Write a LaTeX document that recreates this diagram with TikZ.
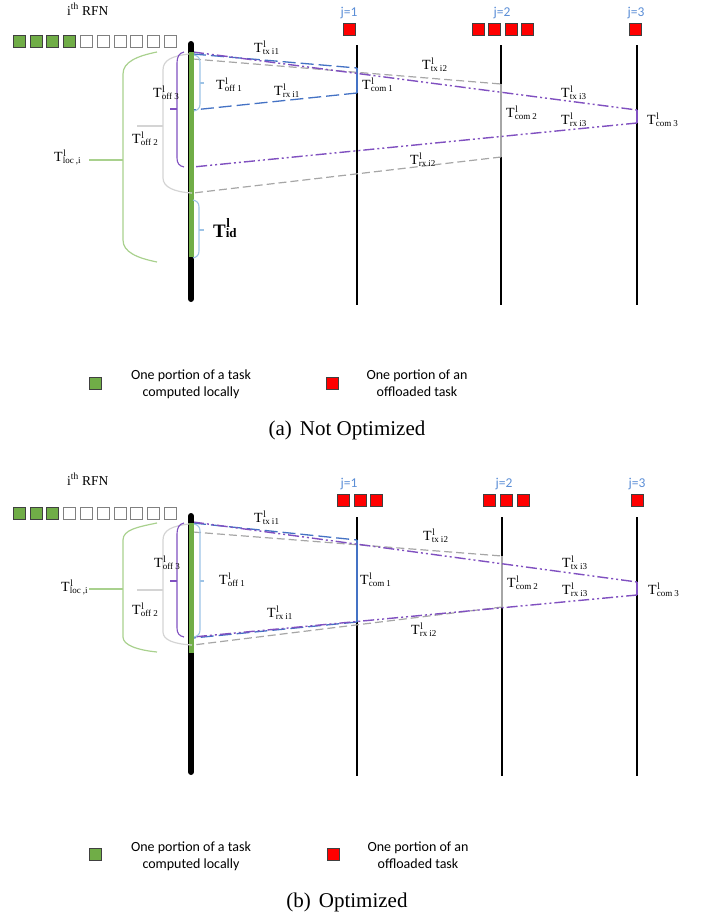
\documentclass[tikz,border=0pt]{standalone}
\usepackage{fontspec}
\setmainfont{Liberation Serif}
\newfontfamily\calfont{Carlito}
\definecolor{tgreen}{RGB}{112,173,71}
\definecolor{lgreen}{RGB}{169,209,142}
\definecolor{tblue}{RGB}{68,114,196}
\definecolor{lblue}{RGB}{157,195,230}
\definecolor{jblue}{RGB}{91,142,214}
\definecolor{tgray}{RGB}{166,166,166}
\definecolor{lgray}{RGB}{212,212,212}
\definecolor{tpurple}{RGB}{128,80,192}
\definecolor{sqedge}{RGB}{64,64,64}
\newcommand\Tl[1]{T\makebox[0pt][l]{\hspace{0.6pt}\raisebox{5pt}{\fontsize{9.5}{10}\selectfont l}}{\fontsize{9}{10}\selectfont\raisebox{-2pt}{#1}}}
\newcommand\Tid{T\makebox[0pt][l]{\hspace{0.6pt}\raisebox{10pt}{\fontsize{13}{14}\selectfont l}}{\fontsize{13}{14}\selectfont id}}
\begin{document}
\begin{tikzpicture}[x=1pt,y=-1pt,
  lab/.style={inner sep=0pt, anchor=base west, font=\fontsize{14}{16}\selectfont},
  idlab/.style={inner sep=0pt, anchor=base west, font=\bfseries\fontsize{19}{21}\selectfont},
  rfnlab/.style={inner sep=0pt, anchor=base west, font=\fontsize{13.5}{15}\selectfont},
  leg/.style={inner sep=0pt, anchor=base, font=\calfont\fontsize{14}{17}\selectfont},
  jlab/.style={inner sep=0pt, anchor=base, font=\calfont\fontsize{13.5}{15}\selectfont, text=jblue},
  captext/.style={inner sep=0pt, anchor=base, font=\fontsize{21}{24}\selectfont},
  sqg/.style={draw=sqedge, fill=tgreen, line width=1pt, minimum size=12pt, inner sep=0pt},
  sqw/.style={draw=gray, fill=white, line width=1pt, minimum size=12pt, inner sep=0pt},
  sqr/.style={draw=sqedge, fill=red, line width=1pt, minimum size=12pt, inner sep=0pt},
  jline/.style={draw=black, line width=1.8pt},
  rfnline/.style={draw=black, line width=6pt, line cap=round},
  greenline/.style={draw=tgreen, line width=5pt},
  bdash/.style={draw=tblue, line width=1.3pt, dash pattern=on 13pt off 5pt},
  ydash/.style={draw=tgray, line width=1.2pt, dash pattern=on 8pt off 4pt},
  pdash/.style={draw=tpurple, line width=1.4pt, dash pattern=on 11pt off 3pt on 2pt off 3pt on 2pt off 3pt},
  bcom/.style={draw=tblue, line width=2.5pt},
  ycom/.style={draw=tgray, line width=2.5pt},
  pcom/.style={draw=tpurple, line width=2.5pt},
  gbrace/.style={draw=lgreen, line width=1.2pt},
  ybrace/.style={draw=lgray, line width=1.2pt},
  pbrace/.style={draw=tpurple, line width=1.1pt},
  bbrace/.style={draw=lblue, line width=1.1pt}
]
\useasboundingbox (0,0) rectangle (702,916);

%% ================= Panel (a) =================
\node[rfnlab] (a-rfn) at (67,15) {i\textsuperscript{th} RFN};
\foreach \k/\s in {0/sqg,1/sqg,2/sqg,3/sqg,4/sqw,5/sqw,6/sqw,7/sqw,8/sqw,9/sqw}
  \node[\s] (a-sq\k) at ({19.3+16.8*\k},41) {};
\node[jlab] (a-jl1) at (349,16) {j=1};
\node[jlab] (a-jl2) at (502,16) {j=2};
\node[jlab] (a-jl3) at (636,16) {j=3};
\node[sqr] (a-r1) at (349,29) {};
\foreach \k in {0,1,2,3} \node[sqr] (a-r2\k) at ({478.3+16.5*\k},29) {};
\node[sqr] (a-r3) at (635.5,29) {};

\coordinate (a-j1t) at (357,45); \coordinate (a-j1b) at (357,305);
\coordinate (a-j2t) at (501,45); \coordinate (a-j2b) at (501,305);
\coordinate (a-j3t) at (637,45); \coordinate (a-j3b) at (637,305);
\draw[jline] (a-j1t) -- (a-j1b);
\draw[jline] (a-j2t) -- (a-j2b);
\draw[jline] (a-j3t) -- (a-j3b);

\coordinate (a-bs) at (193,54);  \coordinate (a-be) at (357,68);
\coordinate (a-bc) at (357,93);  \coordinate (a-br) at (193,110);
\coordinate (a-ys) at (193,59);  \coordinate (a-ye) at (501,84);
\coordinate (a-yc) at (501,157); \coordinate (a-yr) at (193,193);
\coordinate (a-ps) at (193,52);  \coordinate (a-pe) at (637,110);
\coordinate (a-pc) at (637,123); \coordinate (a-pr) at (193,167);
\draw[ydash] (a-ys) -- (a-ye);
\draw[ycom] (a-ye) -- (a-yc);
\draw[ydash] (a-yc) -- (a-yr);
\draw[bdash] (a-bs) -- (a-be);
\draw[bcom] (a-be) -- (a-bc);
\draw[bdash] (a-bc) -- (a-br);
\draw[pdash] (a-ps) -- (a-pe);
\draw[pcom] (a-pe) -- (a-pc);
\draw[pdash] (a-pc) -- (a-pr);

\coordinate (a-rt) at (191,44); \coordinate (a-rb) at (191,299);
\coordinate (a-gt) at (191,52); \coordinate (a-gb) at (191,257);
\draw[rfnline] (a-rt) -- (a-rb);
\draw[greenline] (a-gt) -- (a-gb);

% braces
\draw[gbrace] (157,52) .. controls (137,56) and (123,62) .. (123,74) -- (123,240) .. controls (123,252) and (137,258) .. (157,262);
\draw[ybrace] (189,54) .. controls (172,56) and (163,60) .. (163,70) -- (163,178) .. controls (163,187) and (174,192) .. (192,193);
\draw[pbrace] (184,52) .. controls (179,53) and (177,57) .. (177,63) -- (177,158) .. controls (177,163) and (179,166) .. (184,167);
\draw[bbrace] (194,55) .. controls (198,56) and (200,58) .. (200,62) -- (200,104) .. controls (200,108) and (198,110) .. (194,111);
\draw[bbrace] (193,200) .. controls (197,201) and (199,203) .. (199,207) -- (199,251) .. controls (199,255) and (197,257) .. (193,258);
\coordinate (a-gm) at (123,160); \coordinate (a-gk) at (89,160);
\coordinate (a-ym) at (163,126); \coordinate (a-yk) at (137,126);
\coordinate (a-pm) at (177,109); \coordinate (a-pk) at (170,109);
\coordinate (a-om) at (200,83);  \coordinate (a-ok) at (204,83);
\coordinate (a-im) at (199,230); \coordinate (a-ik) at (204,230);
\draw[gbrace] (a-gm) -- (a-gk);
\draw[ybrace] (a-ym) -- (a-yk);
\draw[pbrace] (a-pm) -- (a-pk);
\draw[bbrace] (a-om) -- (a-ok);
\draw[bbrace] (a-im) -- (a-ik);

% labels
\node[lab] (a-ltx1) at (254,52) {\Tl{tx i1}};
\node[lab] (a-lrx1) at (274,95) {\Tl{rx i1}};
\node[lab] (a-loff1) at (216,89) {\Tl{off 1}};
\node[lab] (a-lcom1) at (362,89) {\Tl{com 1}};
\node[lab] (a-ltx2) at (422,69) {\Tl{tx i2}};
\node[lab] (a-lcom2) at (506,117) {\Tl{com 2}};
\node[lab] (a-ltx3) at (561,97) {\Tl{tx i3}};
\node[lab] (a-lrx3) at (561,124) {\Tl{rx i3}};
\node[lab] (a-lcom3) at (647,124) {\Tl{com 3}};
\node[lab] (a-lrx2) at (410,164) {\Tl{rx i2}};
\node[lab] (a-loff3) at (153,97) {\Tl{off 3}};
\node[lab] (a-loff2) at (132,143) {\Tl{off 2}};
\node[lab] (a-lloc) at (54,161) {\Tl{loc ,i}};
\node[idlab] (a-lid) at (213,237) {\Tid};

% legend
\node[sqg] (a-lg) at (95.5,383) {};
\node[leg] (a-lgt1) at (191,379) {One portion of a task};
\node[leg] (a-lgt2) at (191,396) {computed locally};
\node[sqr] (a-lr) at (332,383) {};
\node[leg] (a-lrt1) at (417,379) {One portion of an};
\node[leg] (a-lrt2) at (417,396) {offloaded task};
\node[captext] (a-cap) at (347,435) {(a)\hspace{8pt}Not Optimized};

%% ================= Panel (b) =================
\node[rfnlab] (b-rfn) at (67,485) {i\textsuperscript{th} RFN};
\foreach \k/\s in {0/sqg,1/sqg,2/sqg,3/sqw,4/sqw,5/sqw,6/sqw,7/sqw,8/sqw,9/sqw}
  \node[\s] (b-sq\k) at ({19.3+16.8*\k},513) {};
\node[jlab] (b-jl1) at (349,487) {j=1};
\node[jlab] (b-jl2) at (504,487) {j=2};
\node[jlab] (b-jl3) at (637,487) {j=3};
\foreach \k in {0,1,2} \node[sqr] (b-r1\k) at ({343.3+16.75*\k},500) {};
\foreach \k in {0,1,2} \node[sqr] (b-r2\k) at ({489.5+17*\k},500) {};
\node[sqr] (b-r3) at (637,500) {};

\coordinate (b-j1t) at (357,517); \coordinate (b-j1b) at (357,776);
\coordinate (b-j2t) at (502,517); \coordinate (b-j2b) at (502,776);
\coordinate (b-j3t) at (637,517); \coordinate (b-j3b) at (637,776);
\draw[jline] (b-j1t) -- (b-j1b);
\draw[jline] (b-j2t) -- (b-j2b);
\draw[jline] (b-j3t) -- (b-j3b);

\coordinate (b-bs) at (193,523);  \coordinate (b-be) at (357,540);
\coordinate (b-bc) at (357,622);  \coordinate (b-br) at (193,638);
\coordinate (b-ys) at (193,532);  \coordinate (b-ye) at (502,556);
\coordinate (b-yc) at (502,607);  \coordinate (b-yr) at (193,645);
\coordinate (b-ps) at (193,522);  \coordinate (b-pe) at (637,582);
\coordinate (b-pc) at (637,595);  \coordinate (b-pr) at (193,637);
\draw[ydash] (b-ys) -- (b-ye);
\draw[ycom] (b-ye) -- (b-yc);
\draw[ydash] (b-yc) -- (b-yr);
\draw[bdash] (b-bs) -- (b-be);
\draw[bcom] (b-be) -- (b-bc);
\draw[bdash] (b-bc) -- (b-br);
\draw[pdash] (b-ps) -- (b-pe);
\draw[pcom] (b-pe) -- (b-pc);
\draw[pdash] (b-pc) -- (b-pr);

\coordinate (b-rt) at (191,516); \coordinate (b-rb) at (191,772);
\coordinate (b-gt) at (191,523); \coordinate (b-gb) at (191,653);
\draw[rfnline] (b-rt) -- (b-rb);
\draw[greenline] (b-gt) -- (b-gb);

% braces
\draw[gbrace] (157,523) .. controls (137,527) and (123,530) .. (123,540) -- (123,637) .. controls (123,645) and (137,650) .. (157,652);
\draw[ybrace] (189,524) .. controls (172,526) and (163,530) .. (163,540) -- (163,632) .. controls (163,640) and (174,644) .. (192,645);
\draw[pbrace] (184,523) .. controls (179,524) and (177,528) .. (177,534) -- (177,628) .. controls (177,633) and (179,636) .. (184,637);
\draw[bbrace] (194,524) .. controls (198,525) and (200,527) .. (200,531) -- (200,630) .. controls (200,634) and (198,636) .. (194,637);
\coordinate (b-gm) at (123,589); \coordinate (b-gk) at (89,589);
\coordinate (b-ym) at (163,590); \coordinate (b-yk) at (137,590);
\coordinate (b-pm) at (177,581); \coordinate (b-pk) at (170,581);
\coordinate (b-om) at (200,581); \coordinate (b-ok) at (204,581);
\draw[gbrace] (b-gm) -- (b-gk);
\draw[ybrace] (b-ym) -- (b-yk);
\draw[pbrace] (b-pm) -- (b-pk);
\draw[bbrace] (b-om) -- (b-ok);

% labels
\node[lab] (b-ltx1) at (254,522) {\Tl{tx i1}};
\node[lab] (b-loff1) at (219,584) {\Tl{off 1}};
\node[lab] (b-lcom1) at (360,584) {\Tl{com 1}};
\node[lab] (b-lrx1) at (267,617) {\Tl{rx i1}};
\node[lab] (b-ltx2) at (423,540) {\Tl{tx i2}};
\node[lab] (b-ltx3) at (562,567) {\Tl{tx i3}};
\node[lab] (b-lrx3) at (562,594) {\Tl{rx i3}};
\node[lab] (b-lcom2) at (507,587) {\Tl{com 2}};
\node[lab] (b-lcom3) at (648,594) {\Tl{com 3}};
\node[lab] (b-lrx2) at (411,634) {\Tl{rx i2}};
\node[lab] (b-loff3) at (154,567) {\Tl{off 3}};
\node[lab] (b-loff2) at (132,614) {\Tl{off 2}};
\node[lab] (b-lloc) at (61,591) {\Tl{loc ,i}};

% legend
\node[sqg] (b-lg) at (95.5,854) {};
\node[leg] (b-lgt1) at (191,851) {One portion of a task};
\node[leg] (b-lgt2) at (191,868) {computed locally};
\node[sqr] (b-lr) at (333,854) {};
\node[leg] (b-lrt1) at (418,851) {One portion of an};
\node[leg] (b-lrt2) at (418,868) {offloaded task};
\node[captext] (b-cap) at (347,907) {(b)\hspace{8pt}Optimized};
\end{tikzpicture}
\end{document}
